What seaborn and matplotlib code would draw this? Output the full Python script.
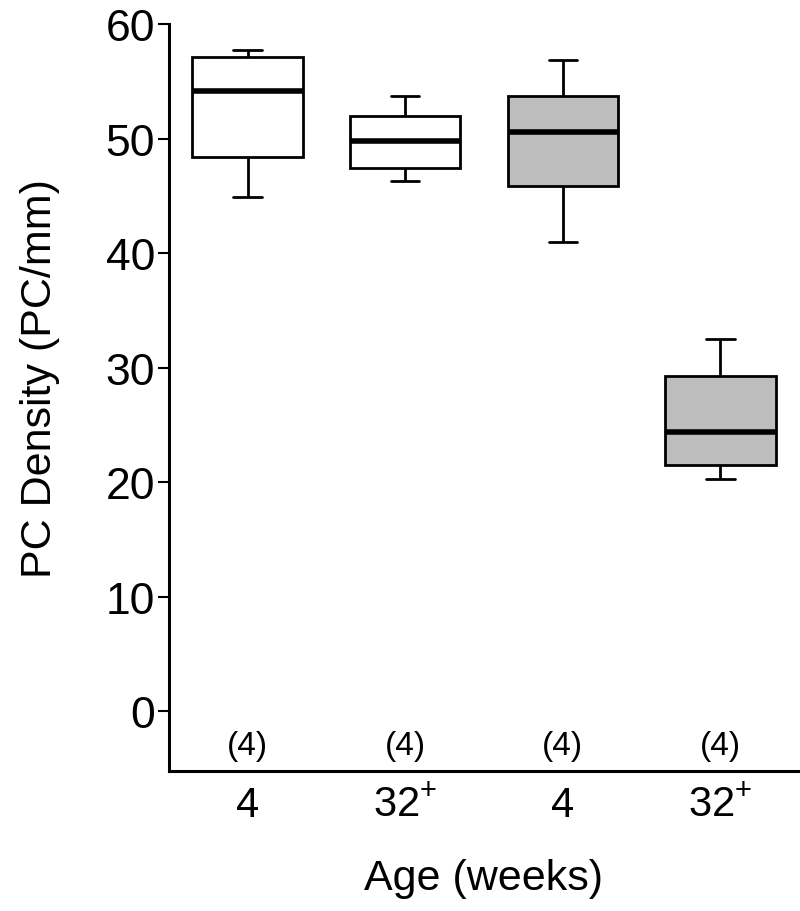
import matplotlib

matplotlib.use("Agg")
import matplotlib.pyplot as plt
import pandas as pd
import seaborn as sns

# Five-number summaries: min, q1, median, q3, max
grupos = ["4 (branco)", "32+ (branco)", "4 (cinza)", "32+ (cinza)"]
rotulos = ["4", r"32$^{\mathregular{+}}$", "4", r"32$^{\mathregular{+}}$"]
n_amostras = ["(4)", "(4)", "(4)", "(4)"]
resumo_1 = [44.9, 48.4, 54.2, 57.1, 57.7]
resumo_2 = [46.3, 47.4, 49.8, 52.0, 53.75]
resumo_3 = [41.0, 45.9, 50.6, 53.75, 56.9]
resumo_4 = [20.3, 21.5, 24.4, 29.3, 32.5]
cores = ["white", "white", "#bdbdbd", "#bdbdbd"]


def _montar_dados() -> pd.DataFrame:
    linhas = []
    for grupo, valores in zip(grupos, [resumo_1, resumo_2, resumo_3, resumo_4]):
        for v in valores:
            linhas.append({"grupo": grupo, "densidade": v})
    return pd.DataFrame(linhas)


def main() -> None:
    sns.set_theme(style="ticks")
    plt.rcParams["font.family"] = ["Liberation Sans", "DejaVu Sans"]
    plt.rcParams["mathtext.fontset"] = "custom"
    plt.rcParams["mathtext.rm"] = "Liberation Sans"
    for chave in ["text.color", "axes.labelcolor", "xtick.color", "ytick.color", "axes.edgecolor"]:
        plt.rcParams[chave] = "black"

    df = _montar_dados()

    fig = plt.figure(figsize=(8, 9.12), dpi=100)
    ax = fig.add_axes([0.211, 0.1535, 0.788, 0.819])

    sns.boxplot(
        data=df,
        x="grupo",
        y="densidade",
        hue="grupo",
        palette=cores,
        legend=False,
        order=grupos,
        whis=(0, 100),
        width=0.7,
        linecolor="black",
        linewidth=2.0,
        capwidths=0.18,
        medianprops={"linewidth": 4.0, "color": "black"},
        showfliers=False,
        ax=ax,
    )

    for i, txt in enumerate(n_amostras):
        ax.text(i, -3.0, txt, ha="center", va="center", fontsize=24)

    ax.set_xlim(-0.5, 3.5)
    ax.set_ylim(-5.2, 60)
    ax.set_yticks([0, 10, 20, 30, 40, 50, 60])
    ax.set_xticks(range(len(rotulos)))
    ax.set_xticklabels(rotulos)
    ax.tick_params(axis="y", labelsize=32, width=1.5, length=8, pad=2)
    ax.tick_params(axis="x", labelsize=30, length=0, pad=10)
    ax.set_xlabel("Age (weeks)", fontsize=31, va="center")
    ax.set_ylabel("PC Density (PC/mm)", fontsize=31, va="center")
    ax.xaxis.set_label_coords(0.5, -0.143)
    ax.yaxis.set_label_coords(-0.205, 0.527)

    for lado in ["top", "right"]:
        ax.spines[lado].set_visible(False)
    for lado in ["left", "bottom"]:
        ax.spines[lado].set_linewidth(2.2)

    fig.savefig("out.png", dpi=100)
    plt.close(fig)


if __name__ == "__main__":
    main()
